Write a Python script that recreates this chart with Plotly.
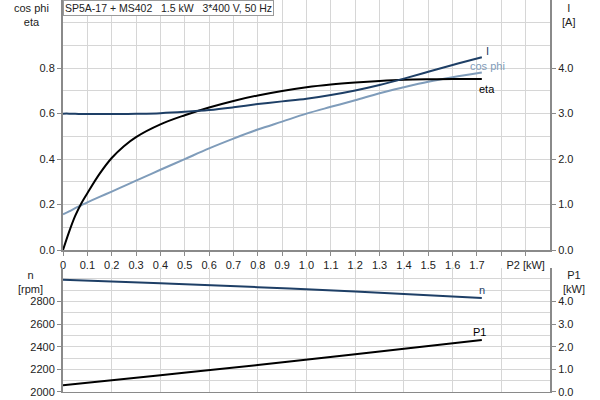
import plotly.graph_objects as go

# ---- data ----
p2_top = [0, 0.025, 0.05, 0.075, 0.1, 0.15, 0.2, 0.25, 0.3, 0.4, 0.5, 0.6, 0.7, 0.8, 0.9, 1.0, 1.1, 1.2, 1.3, 1.4, 1.5, 1.6, 1.72]
eta = [0, 0.08, 0.15, 0.205, 0.25, 0.335, 0.405, 0.457, 0.497, 0.553, 0.593, 0.627, 0.656, 0.68, 0.70, 0.716, 0.728, 0.737, 0.744, 0.749, 0.751, 0.752, 0.752]
cos_phi = [0.157, 0.17, 0.184, 0.197, 0.21, 0.234, 0.257, 0.281, 0.305, 0.353, 0.40, 0.447, 0.49, 0.53, 0.565, 0.60, 0.63, 0.659, 0.69, 0.716, 0.74, 0.76, 0.781]
current_a = [3.00, 3.00, 2.995, 2.993, 2.99, 2.99, 2.99, 2.99, 2.995, 3.01, 3.04, 3.08, 3.14, 3.21, 3.27, 3.33, 3.41, 3.51, 3.63, 3.77, 3.92, 4.07, 4.24]

p2_bot = [0, 0.4, 0.8, 1.2, 1.72]
speed_rpm = [2993, 2962, 2928, 2889, 2832]
p1_kw = [0.30, 0.74, 1.19, 1.67, 2.30]

x_tick_vals = [round(0.1 * i, 1) for i in range(20)]
x_tick_text = ["0" if v == 0 else f"{v:.1f}" for v in x_tick_vals[:18]] + ["", "P2 [kW]"]

title_text = "SP5A-17 + MS402   1.5 kW   3*400 V, 50 Hz"

DARK = "#1e3f66"
LIGHT = "#7f9cba"
BLACK = "#000000"
GRID = "#d6d6d6"
AXIS = "#8a8a8a"
FONT = dict(family="Liberation Sans, Arial, sans-serif", size=11, color="#222222")

fig = go.Figure()
fig.add_trace(go.Scatter(x=p2_top, y=cos_phi, mode="lines", line=dict(color=LIGHT, width=2, shape="spline"),
                         xaxis="x", yaxis="y", hoverinfo="skip"))
fig.add_trace(go.Scatter(x=p2_top, y=current_a, mode="lines", line=dict(color=DARK, width=2, shape="spline"),
                         xaxis="x", yaxis="y2", hoverinfo="skip"))
fig.add_trace(go.Scatter(x=p2_top, y=eta, mode="lines", line=dict(color=BLACK, width=2, shape="spline"),
                         xaxis="x", yaxis="y", hoverinfo="skip"))
fig.add_trace(go.Scatter(x=p2_bot, y=speed_rpm, mode="lines", line=dict(color=DARK, width=2, shape="spline"),
                         xaxis="x2", yaxis="y3", hoverinfo="skip"))
fig.add_trace(go.Scatter(x=p2_bot, y=p1_kw, mode="lines", line=dict(color=BLACK, width=2, shape="spline"),
                         xaxis="x2", yaxis="y4", hoverinfo="skip"))

top_dom = [0.3622, 1.0]
bot_dom = [0.0, 0.3171]
common_axis = dict(showline=True, linecolor=AXIS, linewidth=2, ticks="outside", ticklen=4,
                   tickcolor=AXIS, zeroline=False, tickfont=FONT, mirror=False, automargin=False)

fig.update_layout(
    template="none",
    width=600, height=400, showlegend=False,
    margin=dict(l=63, r=50, t=0, b=8, autoexpand=False),
    paper_bgcolor="white", plot_bgcolor="white",
    font=FONT,
    xaxis=dict(domain=[0, 1], anchor="y", range=[0, 2.0], tickvals=x_tick_vals, ticktext=x_tick_text,
               showgrid=True, gridcolor=GRID, gridwidth=1, **common_axis),
    yaxis=dict(domain=top_dom, anchor="x", range=[0, 1.1], tickvals=[0, 0.2, 0.4, 0.6, 0.8], tickformat=".1f",
               showgrid=True, gridcolor=GRID,
               minor=dict(dtick=0.1, tick0=0, showgrid=True, gridcolor=GRID, ticks=""),
               **common_axis),
    yaxis2=dict(anchor="x", overlaying="y", side="right", range=[0, 5.5], tickvals=[0, 1, 2, 3, 4],
                tickformat=".1f", showgrid=False, **common_axis),
    xaxis2=dict(domain=[0, 1], anchor="y3", range=[0, 2.0], dtick=0.2, tick0=0, showticklabels=False,
                showgrid=True, gridcolor=GRID, showline=True, linecolor=AXIS, linewidth=1, ticks="",
                zeroline=False, automargin=False),
    yaxis3=dict(domain=bot_dom, anchor="x2", range=[2000, 3100], tickvals=[2000, 2200, 2400, 2600, 2800],
                showgrid=True, gridcolor=GRID,
                minor=dict(dtick=100, tick0=2000, showgrid=True, gridcolor=GRID, ticks=""),
                **common_axis),
    yaxis4=dict(anchor="x2", overlaying="y3", side="right", range=[0, 5.5], tickvals=[0, 1, 2, 3, 4],
                tickformat=".1f", showgrid=False, **common_axis),
)

ann = []
# title box
ann.append(dict(xref="paper", yref="paper", x=0, y=1, xanchor="left", yanchor="top", text=title_text,
                showarrow=False, font=dict(FONT, size=10.5), bgcolor="white", bordercolor="#9a9a9a",
                borderwidth=1, borderpad=1))
# axis titles
ann.append(dict(xref="paper", yref="paper", x=-0.064, y=1.0, xanchor="center", yanchor="top",
                text="cos phi<br>eta", showarrow=False, font=FONT))
ann.append(dict(xref="paper", yref="paper", x=1.037, y=1.0, xanchor="center", yanchor="top",
                text="I<br>[A]", showarrow=False, font=FONT))
ann.append(dict(xref="paper", yref="paper", x=-0.066, y=bot_dom[1] + 0.003, xanchor="center", yanchor="top",
                text="n<br>[rpm]", showarrow=False, font=FONT))
ann.append(dict(xref="paper", yref="paper", x=1.05, y=bot_dom[1] + 0.003, xanchor="center", yanchor="top",
                text="P1<br>[kW]", showarrow=False, font=FONT))
# curve labels, anchored to curve ends
ann.append(dict(xref="x", yref="y2", x=p2_top[-1], y=current_a[-1], text="I", showarrow=False,
                xanchor="center", yanchor="middle", xshift=6, yshift=6, font=dict(FONT, color=DARK)))
ann.append(dict(xref="x", yref="y", x=p2_top[-1], y=cos_phi[-1], text="cos phi", showarrow=False,
                xanchor="center", yanchor="middle", xshift=6, yshift=7, font=dict(FONT, color=LIGHT)))
ann.append(dict(xref="x", yref="y", x=p2_top[-1], y=eta[-1], text="eta", showarrow=False,
                xanchor="center", yanchor="middle", xshift=5, yshift=-10, font=dict(FONT, color=BLACK)))
ann.append(dict(xref="x2", yref="y3", x=p2_bot[-1], y=speed_rpm[-1], text="n", showarrow=False,
                xanchor="center", yanchor="middle", xshift=0, yshift=8, font=dict(FONT, color=DARK)))
ann.append(dict(xref="x2", yref="y4", x=p2_bot[-1], y=p1_kw[-1], text="P1", showarrow=False,
                xanchor="center", yanchor="middle", xshift=-2, yshift=8, font=dict(FONT, color=BLACK)))
fig.update_layout(annotations=ann)

fig.write_html("out.html", config={"displayModeBar": False},
               post_script="document.body.style.margin='0';")
